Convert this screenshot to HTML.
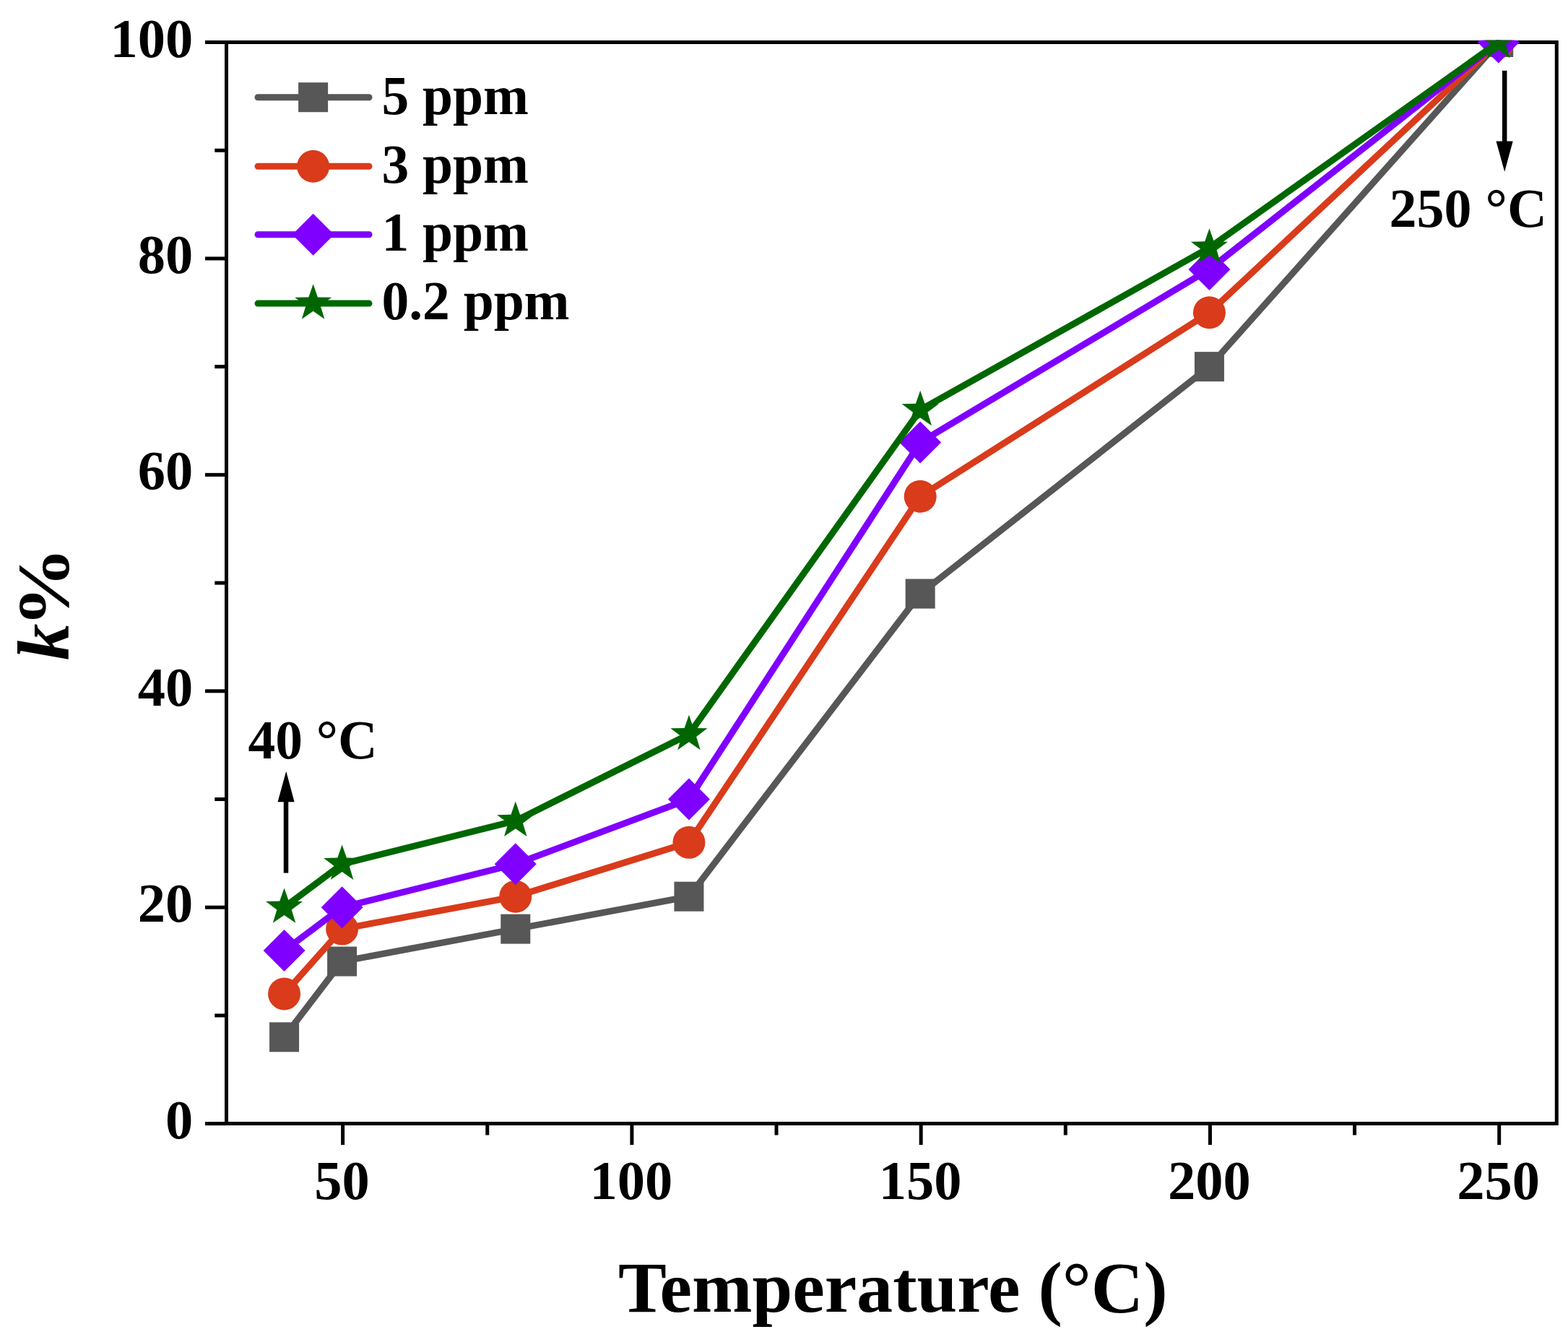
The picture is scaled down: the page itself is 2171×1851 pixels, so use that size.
<!DOCTYPE html>
<html><head><meta charset="utf-8"><title>k% vs Temperature</title>
<style>
html,body{margin:0;padding:0;background:#fff;}
svg{display:block;}
text{font-family:"Liberation Serif","Times New Roman",serif;font-weight:bold;fill:#000;}
</style></head><body>
<svg width="2171" height="1851" viewBox="0 0 2171 1851">
<rect width="2171" height="1851" fill="#fff"/>
<defs><clipPath id="pc"><rect x="311" y="55.8" width="1847" height="1502.5"/></clipPath></defs>

<g stroke="#000" stroke-width="5" fill="none" stroke-linecap="butt">
<path d="M313.5 1555.5V56.0M311.0 58.5H2155.3V1555.5M311.0 1555.5H2157.8"/>
<path d="M313.5 1555.60H284"/>
<path d="M313.5 1256.18H284"/>
<path d="M313.5 956.76H284"/>
<path d="M313.5 657.34H284"/>
<path d="M313.5 357.92H284"/>
<path d="M313.5 58.50H284"/>
<path d="M313.5 1405.89H297.3"/>
<path d="M313.5 1106.47H297.3"/>
<path d="M313.5 807.05H297.3"/>
<path d="M313.5 507.63H297.3"/>
<path d="M313.5 208.21H297.3"/>
<path d="M474.60 1555.5V1585"/>
<path d="M874.88 1555.5V1585"/>
<path d="M1275.15 1555.5V1585"/>
<path d="M1675.43 1555.5V1585"/>
<path d="M2075.70 1555.5V1585"/>
<path d="M674.74 1555.5V1571.5"/>
<path d="M1075.01 1555.5V1571.5"/>
<path d="M1475.29 1555.5V1571.5"/>
<path d="M1875.56 1555.5V1571.5"/>
</g>
<g font-size="76.5">
<text x="267.2" y="1575.6" text-anchor="end">0</text>
<text x="267.2" y="1276.2" text-anchor="end">20</text>
<text x="267.2" y="976.8" text-anchor="end">40</text>
<text x="267.2" y="677.3" text-anchor="end">60</text>
<text x="267.2" y="377.9" text-anchor="end">80</text>
<text x="267.2" y="78.5" text-anchor="end">100</text>
<text x="473.6" y="1659.8" text-anchor="middle">50</text>
<text x="873.9" y="1659.8" text-anchor="middle">100</text>
<text x="1274.2" y="1659.8" text-anchor="middle">150</text>
<text x="1674.4" y="1659.8" text-anchor="middle">200</text>
<text x="2074.7" y="1659.8" text-anchor="middle">250</text>
</g>
<g clip-path="url(#pc)">
<polyline points="393.55,1435.83 473.60,1331.03 713.76,1286.12 953.93,1241.21 1274.15,822.02 1674.43,507.63 2074.70,58.50" fill="none" stroke="#575757" stroke-width="9" stroke-linejoin="round" stroke-linecap="round"/>
<rect x="373.05" y="1415.33" width="41" height="41" fill="#575757"/>
<rect x="453.10" y="1310.53" width="41" height="41" fill="#575757"/>
<rect x="693.26" y="1265.62" width="41" height="41" fill="#575757"/>
<rect x="933.43" y="1220.71" width="41" height="41" fill="#575757"/>
<rect x="1253.65" y="801.52" width="41" height="41" fill="#575757"/>
<rect x="1653.93" y="487.13" width="41" height="41" fill="#575757"/>
<rect x="2054.20" y="38.00" width="41" height="41" fill="#575757"/>
<polyline points="393.55,1375.95 473.60,1286.12 713.76,1241.21 953.93,1166.35 1274.15,687.28 1674.43,432.77 2074.70,58.50" fill="none" stroke="#d93b1b" stroke-width="9" stroke-linejoin="round" stroke-linecap="round"/>
<circle cx="393.55" cy="1375.95" r="22.5" fill="#d93b1b"/>
<circle cx="473.60" cy="1286.12" r="22.5" fill="#d93b1b"/>
<circle cx="713.76" cy="1241.21" r="22.5" fill="#d93b1b"/>
<circle cx="953.93" cy="1166.35" r="22.5" fill="#d93b1b"/>
<circle cx="1274.15" cy="687.28" r="22.5" fill="#d93b1b"/>
<circle cx="1674.43" cy="432.77" r="22.5" fill="#d93b1b"/>
<circle cx="2074.70" cy="58.50" r="22.5" fill="#d93b1b"/>
<polyline points="393.55,1316.06 473.60,1256.18 713.76,1196.30 953.93,1106.47 1274.15,612.43 1674.43,372.89 2074.70,58.50" fill="none" stroke="#8000ff" stroke-width="9" stroke-linejoin="round" stroke-linecap="round"/>
<path d="M393.55 1287.06L422.55 1316.06L393.55 1345.06L364.55 1316.06Z" fill="#8000ff"/>
<path d="M473.60 1227.18L502.60 1256.18L473.60 1285.18L444.60 1256.18Z" fill="#8000ff"/>
<path d="M713.76 1167.30L742.76 1196.30L713.76 1225.30L684.76 1196.30Z" fill="#8000ff"/>
<path d="M953.93 1077.47L982.93 1106.47L953.93 1135.47L924.93 1106.47Z" fill="#8000ff"/>
<path d="M1274.15 583.43L1303.15 612.43L1274.15 641.43L1245.15 612.43Z" fill="#8000ff"/>
<path d="M1674.43 343.89L1703.43 372.89L1674.43 401.89L1645.43 372.89Z" fill="#8000ff"/>
<path d="M2074.70 29.50L2103.70 58.50L2074.70 87.50L2045.70 58.50Z" fill="#8000ff"/>
<polyline points="393.55,1256.18 473.60,1196.30 713.76,1136.41 953.93,1016.64 1274.15,567.51 1674.43,342.95 2074.70,58.50" fill="none" stroke="#006700" stroke-width="9" stroke-linejoin="round" stroke-linecap="round"/>
<polygon points="393.55,1229.38 399.85,1247.51 419.03,1247.90 403.74,1259.49 409.30,1277.86 393.55,1266.90 377.79,1277.86 383.35,1259.49 368.06,1247.90 387.24,1247.51" fill="#006700"/>
<polygon points="473.60,1169.50 479.90,1187.62 499.09,1188.01 483.80,1199.61 489.35,1217.98 473.60,1207.02 457.85,1217.98 463.40,1199.61 448.11,1188.01 467.30,1187.62" fill="#006700"/>
<polygon points="713.76,1109.61 720.07,1127.74 739.25,1128.13 723.96,1139.72 729.52,1158.09 713.76,1147.13 698.01,1158.09 703.57,1139.72 688.28,1128.13 707.46,1127.74" fill="#006700"/>
<polygon points="953.93,989.84 960.23,1007.97 979.42,1008.36 964.13,1019.96 969.68,1038.33 953.93,1027.36 938.18,1038.33 943.73,1019.96 928.44,1008.36 947.63,1007.97" fill="#006700"/>
<polygon points="1274.15,540.71 1280.45,558.84 1299.64,559.23 1284.35,570.83 1289.90,589.20 1274.15,578.23 1258.40,589.20 1263.95,570.83 1248.66,559.23 1267.85,558.84" fill="#006700"/>
<polygon points="1674.43,316.15 1680.73,334.28 1699.91,334.67 1684.62,346.26 1690.18,364.63 1674.43,353.67 1658.67,364.63 1664.23,346.26 1648.94,334.67 1668.12,334.28" fill="#006700"/>
<polygon points="2074.70,31.70 2081.00,49.83 2100.19,50.22 2084.90,61.81 2090.45,80.18 2074.70,69.22 2058.95,80.18 2064.50,61.81 2049.21,50.22 2068.40,49.83" fill="#006700"/>
</g>
<path d="M357 134.7H511" stroke="#575757" stroke-width="9" stroke-linecap="round" fill="none"/>
<rect x="413.10" y="114.20" width="41" height="41" fill="#575757"/>
<text x="528.4" y="157.9" font-size="75.5">5 ppm</text>
<path d="M357 230.3H511" stroke="#d93b1b" stroke-width="9" stroke-linecap="round" fill="none"/>
<circle cx="433.60" cy="230.30" r="22.5" fill="#d93b1b"/>
<text x="528.4" y="252.5" font-size="75.5">3 ppm</text>
<path d="M357 324.8H511" stroke="#8000ff" stroke-width="9" stroke-linecap="round" fill="none"/>
<path d="M433.60 295.80L462.60 324.80L433.60 353.80L404.60 324.80Z" fill="#8000ff"/>
<text x="528.4" y="347.1" font-size="75.5">1 ppm</text>
<path d="M357 420.1H511" stroke="#006700" stroke-width="9" stroke-linecap="round" fill="none"/>
<polygon points="433.60,393.30 439.90,411.43 459.09,411.82 443.80,423.41 449.35,441.78 433.60,430.82 417.85,441.78 423.40,423.41 408.11,411.82 427.30,411.43" fill="#006700"/>
<text x="528.4" y="441.7" font-size="75.5">0.2 ppm</text>
<text x="343.4" y="1049.6" font-size="75.5">40 °C</text>
<path d="M396 1208.6V1105" stroke="#000" stroke-width="6.5" fill="none"/>
<path d="M384.5 1110.3L407.6 1110.3L396.2 1067.7Z" fill="#000"/>
<text x="1923.5" y="313.6" font-size="76">250 °C</text>
<path d="M2083.2 97.8V200" stroke="#000" stroke-width="6.5" fill="none"/>
<path d="M2071.5 195.5L2094.7 195.5L2083.2 237.7Z" fill="#000"/>
<text x="855.9" y="1816" font-size="100.2">Temperature (°C)</text>
<g transform="translate(95.3 914) rotate(-90)" font-size="101"><text x="0" y="0" font-style="italic">k</text><text transform="translate(45.6 0) scale(1.1 1)">%</text></g>
</svg>
</body></html>
